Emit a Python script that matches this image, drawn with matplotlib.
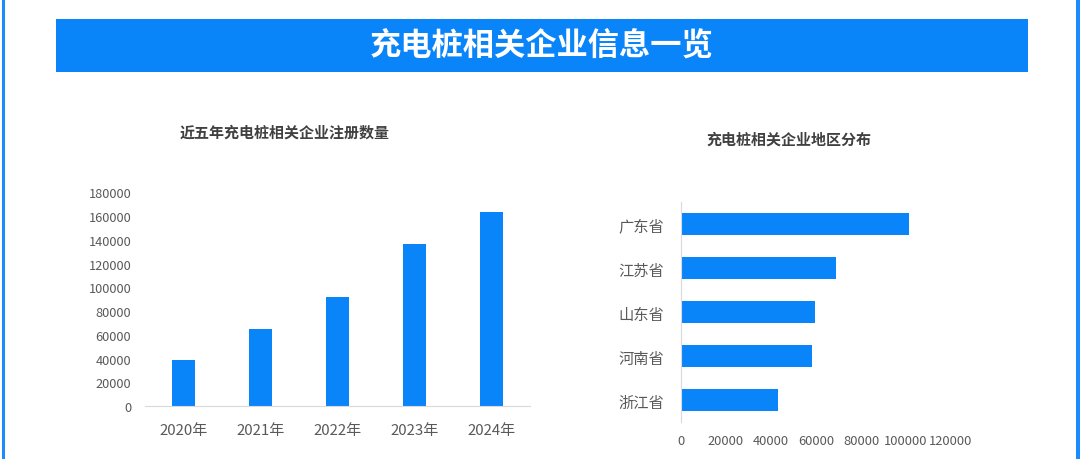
import matplotlib
matplotlib.use("Agg")
import matplotlib.pyplot as plt
from matplotlib.patches import Rectangle

plt.rcParams['font.family'] = ['Noto Sans CJK SC', 'DejaVu Sans']

# Data
years = ["2020年", "2021年", "2022年", "2023年", "2024年"]
reg_counts = [38800, 64500, 91500, 136500, 163500]
year_ticks = [0, 20000, 40000, 60000, 80000, 100000, 120000, 140000, 160000, 180000]

provinces = ["广东省", "江苏省", "山东省", "河南省", "浙江省"]
prov_counts = [101500, 69000, 59700, 58000, 43200]
prov_ticks = [0, 20000, 40000, 60000, 80000, 100000, 120000]

main_title = "充电桩相关企业信息一览"
left_title = "近五年充电桩相关企业注册数量"
right_title = "充电桩相关企业地区分布"

BLUE = "#0984f9"
TXT = "#404040"
TICK = "#595959"
AXLINE = "#d9d9d9"

W, H = 1080, 460
fig = plt.figure(figsize=(W / 100, H / 100), dpi=100)
fig.patch.set_facecolor("white")

# side borders
fig.patches.append(Rectangle((2 / W, 0), 3 / W, 1, transform=fig.transFigure,
                             facecolor="#1a8cff", edgecolor="none"))
fig.patches.append(Rectangle((1076 / W, 0), 4 / W, 1, transform=fig.transFigure,
                             facecolor="#1a8cff", edgecolor="none"))

# banner
fig.patches.append(Rectangle((56 / W, 1 - 73 / H), 972 / W, 53 / H,
                             transform=fig.transFigure, facecolor=BLUE, edgecolor="none"))
fig.text(542 / W, 1 - 47 / H, main_title, ha="center", va="center",
         fontsize=22.5, fontweight="bold", color="white")

# Left chart
ax1 = fig.add_axes([145 / W, 1 - 407 / H, 385 / W, (407 - 193.5) / H])
x = list(range(len(years)))
ax1.bar(x, reg_counts, width=0.31, color=BLUE)
ax1.set_xlim(-0.5, len(years) - 0.5)
ax1.set_ylim(0, 180000)
ax1.set_xticks(x)
ax1.set_xticklabels(years, fontsize=10.8, color=TICK)
ax1.set_yticks(year_ticks)
ax1.set_yticklabels([str(v) for v in year_ticks], fontsize=9.2, color=TICK)
for s in ["top", "right", "left"]:
    ax1.spines[s].set_visible(False)
ax1.spines["bottom"].set_color(AXLINE)
ax1.tick_params(axis="both", length=0)
ax1.tick_params(axis="x", pad=12)
ax1.tick_params(axis="y", pad=10)
fig.text(285 / W, 1 - 133 / H, left_title, ha="center", va="center",
         fontsize=10.8, fontweight="bold", color=TXT)

# Right chart
ax2 = fig.add_axes([681 / W, 1 - 423 / H, 270 / W, 220 / H])
y = list(range(len(provinces)))
ax2.barh(y, prov_counts, height=0.5, color=BLUE)
ax2.set_ylim(len(provinces) - 0.5, -0.5)
ax2.set_xlim(0, 120000)
ax2.set_yticks(y)
ax2.set_yticklabels(provinces, fontsize=11, color=TICK)
ax2.set_xticks(prov_ticks)
ax2.set_xticklabels([str(v) for v in prov_ticks], fontsize=9.3, color=TICK)
for s in ["top", "right", "bottom"]:
    ax2.spines[s].set_visible(False)
ax2.spines["left"].set_color(AXLINE)
ax2.tick_params(axis="both", length=0)
ax2.tick_params(axis="x", pad=9)
ax2.tick_params(axis="y", pad=12)
fig.text(789 / W, 1 - 140 / H, right_title, ha="center", va="center",
         fontsize=10.8, fontweight="bold", color=TXT)

fig.savefig("out.png", dpi=100, facecolor="white")
